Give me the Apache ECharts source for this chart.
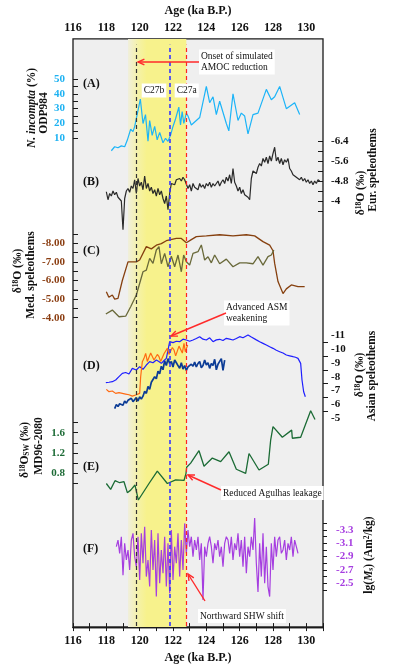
<!DOCTYPE html>
<html><head><meta charset="utf-8">
<script src="https://cdn.jsdelivr.net/npm/echarts@6/dist/echarts.min.js"></script>
<style>html,body{margin:0;padding:0;background:#fff}#c{width:396px;height:669px}</style>
</head><body><div id="c"></div>
<script>
// ---------- data ----------
const ageTickLabels = [116,118,120,122,124,126,128,130];
const eventAges = [119.8, 121.8, 122.8];
const bandAges = [119.3, 122.8];

// (A) N. incompta ODP984 (%)
const ageA = [118.30,118.50,118.70,118.90,119.10,119.26,119.46,119.60,119.70,120.04,120.20,120.35,120.50,120.60,120.75,120.90,121.05,121.20,121.40,121.55,121.70,121.85,122.00,122.15,122.35,122.45,122.55,122.65,122.80,122.90,123.10,123.60,124.00,124.20,124.40,124.60,124.80,125.20,125.35,125.60,125.90,126.10,126.30,126.50,126.80,127.10,127.60,127.90,128.10,128.40,128.80,129.30,129.60];
const valA = [1.6,4.3,3.6,4.9,4.3,8.8,16.1,14.5,17.9,36.4,20,26,8,22,12,18,9,14,7,10,8,12,18,23,31,19,28,20,27,25,19,24,45,34,38,26,35,20,15,40,22,27,25,13,26,27,43,36,38,45,30,34,26];

// (B) Eur. speleothems d18O, 0.1 ka steps from 118.0
const startB = 118.0, stepB = 0.1;
const valB = [-4.37,-4.05,-4.3,-4.2,-4.4,-4.25,-4.35,-4.15,-4.1,-4.0,-2.85,-4.1,-4.4,-4.5,-4.35,-4.6,-4.5,-4.85,-4.3,-4.9,
-4.6,-4.75,-4.45,-5.0,-4.5,-4.7,-4.4,-4.55,-4.3,-4.45,-4.2,-4.5,-4.25,-4.4,-4.1,-3.9,-4.2,-3.65,-4.3,-4.7,
-4.75,-4.65,-4.85,-4.8,-4.9,-4.8,-4.95,-4.85,-4.9,-4.5,-4.65,-4.4,-4.7,-4.55,-4.6,-4.45,-4.7,-4.55,-4.65,-4.5,
-4.7,-4.6,-4.75,-4.55,-4.7,-4.6,-4.65,-4.8,-4.6,-4.75,-4.85,-4.7,-4.95,-4.8,-5.05,-4.7,-5.3,-4.75,-4.6,-4.4,
-4.55,-4.3,-4.45,-4.25,-4.3,-4.15,-4.05,-4.9,-5.2,-5.25,-5.1,-5.35,-5.5,-5.4,-5.7,-5.55,-5.75,-5.5,-5.8,-5.6,
-5.9,-6.15,-5.6,-5.75,-5.5,-5.7,-5.45,-5.65,-5.55,-5.7,-5.3,-5.2,-5.05,-5.1,-4.95,-5.0,-4.85,-4.95,-4.8,-4.9,
-4.75,-4.85,-4.7,-4.8,-4.65,-4.8,-4.7,-4.85,-4.8];
const labelsB = [-6.4,-5.6,-4.8,-4];

// (C) Med. speleothems d18O
const ageC1 = [118.0,118.15,118.36,118.5,118.7,118.96,119.3,119.8,120.0,120.4,120.7,121.0,121.3,121.6,122.2,122.5,122.8,123.1,123.4,124.0,124.8,125.6,126.4,126.9,127.4,127.8,128.0,128.1,128.3,128.6,128.8,129.1,129.5,129.9];
const valC1 = [-5.4,-5.1,-5.22,-5.0,-5.04,-6.0,-7.0,-7.0,-7.1,-7.82,-7.7,-7.9,-7.98,-8.14,-8.26,-8.26,-8.03,-8.2,-8.36,-8.4,-8.46,-8.4,-8.46,-8.4,-8.09,-7.9,-7.6,-6.92,-5.94,-5.3,-5.55,-5.76,-5.67,-5.67];
const ageC2 = [117.97,118.36,118.76,119.16,119.46,119.8,120.2,120.4,120.6,120.8,121.0,121.16,121.3,121.5,121.7,121.9,122.1,122.3,122.5,122.64,122.8,123.0,123.2,123.5,123.7,123.9,124.1,124.3,124.5,124.8,125.2,125.6,126.0,126.4,126.8,127.1,127.4,127.7,127.9,128.05];
const valC2 = [-4.2,-4.41,-4.05,-4.08,-4.59,-5.22,-6.47,-6.56,-7.19,-6.92,-7.64,-7.82,-6.9,-7.46,-6.74,-7.3,-6.74,-7.37,-6.47,-7.37,-7.01,-6.83,-7.46,-7.55,-7.91,-7.1,-7.28,-6.95,-7.37,-6.9,-7.15,-6.74,-6.95,-6.95,-6.9,-7.28,-6.83,-7.28,-7.37,-7.64];
const labelsC = [-8,-7,-6,-5,-4];

// (D) Asian speleothems d18O
const ageD1 = [117.97,118.16,118.36,118.56,118.76,118.96,119.16,119.36,119.56,119.8,120.0,120.2,120.4,120.6,120.8,121.0,121.15,121.3,121.45,121.6,121.7,121.8,121.9,122.0,122.2,122.4,122.6,122.8,123.0,123.2,123.4,123.6,123.8,124.0,124.2,124.4,124.6,124.8,125.0,125.2,125.4,125.6,125.8,126.0,126.2,126.5,126.7,126.8,127.0,127.2,127.4,127.6,127.8,128.0,128.2,128.4,128.6,128.8,129.0,129.2,129.35,129.5,129.66,129.74,129.84,129.94];
const valD1 = [-7.57,-7.6,-7.64,-7.76,-8.0,-8.24,-8.3,-8.19,-8.6,-8.48,-8.72,-8.53,-8.84,-9.08,-9.0,-9.2,-9.1,-8.96,-9.15,-9.32,-9.92,-10.52,-10.4,-10.45,-10.55,-10.52,-10.7,-10.64,-10.55,-10.64,-10.75,-10.88,-10.7,-10.64,-10.8,-10.52,-10.65,-10.69,-10.6,-10.76,-10.7,-10.64,-10.75,-10.88,-10.8,-11.0,-10.85,-10.76,-10.65,-10.52,-10.4,-10.28,-10.15,-10.04,-9.9,-9.8,-9.7,-9.56,-9.5,-9.44,-9.4,-9.32,-8.96,-7.76,-6.92,-6.56];
const ageD2 = [118.0,118.16,118.36,118.56,118.76,118.96,119.16,119.36,119.56,119.76,120.0,120.06,120.16,120.26,120.36,120.46,120.56,120.66,120.76,120.86,120.96,121.06,121.16,121.26,121.36,121.46,121.56,121.66,121.76,121.86,121.96,122.06,122.16,122.26,122.36,122.46,122.56,122.66,122.74,122.8,122.88];
const valD2 = [-7.09,-6.92,-6.97,-6.8,-6.85,-6.8,-6.75,-6.7,-6.6,-6.68,-6.8,-8.0,-9.08,-9.32,-9.68,-9.1,-9.2,-9.7,-9.56,-9.2,-9.32,-9.6,-9.44,-9.1,-9.2,-9.65,-9.56,-10.04,-9.6,-9.68,-10.1,-9.92,-9.5,-9.56,-10.2,-10.16,-9.7,-10.4,-9.8,-9.92,-10.28];
const startD3 = 118.5, stepD3 = 0.1;
const valD3 = [-5.7,-6.0,-5.85,-6.05,-6.15,-5.95,-6.25,-6.1,-6.3,-6.2,-6.45,-6.2,-6.35,-6.5,-6.25,-6.55,-6.4,-6.6,-6.95,-6.8,
-7.3,-7.1,-7.6,-7.5,-8.0,-7.85,-8.4,-8.2,-8.75,-8.5,-9.15,-8.8,-9.3,-8.95,-9.1,-8.7,-9.2,-9.0,-8.8,-8.6,
-9.0,-8.55,-8.8,-8.45,-8.7,-8.6,-8.9,-8.75,-9.05,-8.7,-8.95,-9.1,-8.65,-8.8,-9.2,-8.85,-9.0,-8.6,-8.95,-8.8,
-9.25,-8.5,-8.9,-9.1,-9.3,-8.45,-9.2];

// (E) d18Osw MD96-2080
const ageE = [118.0,118.26,118.52,118.8,119.06,119.26,119.46,119.72,119.92,120.56,121.06,121.66,122.16,122.66,122.78,122.82,123.06,123.56,123.86,124.36,124.86,125.36,125.8,126.36,126.56,127.16,127.72,127.86,128.0,128.56,129.12,129.16,129.66,130.26,130.52];
const valE = [0.6,0.485,0.655,0.615,0.635,0.42,0.47,0.57,0.275,0.6,0.845,0.6,0.67,0.66,0.8,0.92,1.0,1.245,0.94,1.1,1.03,1.225,0.88,0.8,1.19,0.865,0.98,1.455,1.72,1.51,1.65,1.49,1.51,2.03,1.86];
const labelsE = [0.8,1.2,1.6];

// (F) lg(Ms), 0.1 ka steps from 118.6
const startF = 118.6, stepF = 0.1;
const valF = [-3.05,-3.15,-2.95,-3.2,-2.62,-3.1,-2.85,-3.0,-2.7,-3.15,-3.25,-2.9,-2.75,-3.2,-2.55,-3.25,-2.8,-3.35,-2.6,-2.85,
-2.45,-3.3,-2.7,-3.15,-2.3,-3.25,-2.5,-3.0,-2.65,-3.2,-2.45,-3.1,-2.35,-3.3,-2.55,-3.05,-2.8,-3.25,-2.6,-3.15,
-2.7,-3.4,-2.95,-3.3,-3.05,-3.2,-2.9,-3.15,-3.0,-3.2,-2.85,-3.1,-2.25,-3.05,-2.9,-3.1,-3.2,-3.05,-2.8,-3.1,
-3.0,-3.15,-2.9,-3.05,-2.75,-3.1,-3.2,-3.15,-2.95,-3.2,-2.85,-3.1,-3.0,-3.25,-2.9,-3.15,-2.75,-3.2,-2.65,-3.05,
-2.9,-3.2,-3.0,-3.48,-2.8,-2.37,-3.1,-2.6,-3.25,-2.5,-3.05,-2.45,-2.3,-3.1,-2.7,-3.2,-2.9,-3.15,-3.2,-2.95,
-3.0,-3.15,-2.85,-3.1,-3.0,-3.2,-2.9,-3.15,-3.05,-2.95];
const labelsF = [-3.3,-3.1,-2.9,-2.7,-2.5];

// ---------- helpers ----------
const pairs = (xs, ys) => ys.map((v, i) => [xs[i], v]);
const regular = (start, step, ys) => ys.map((v, i) => [+(start + i * step).toFixed(2), v]);
const inList = (list, v) => list.some(t => Math.abs(t - v) < 1e-6);
const FF = 'Liberation Serif, Times New Roman, serif';

const L = 73, W = 250;
const panels = [
  {top: 79, height: 59.3},   // A
  {top: 141, height: 70},    // B
  {top: 234, height: 83.7},  // C
  {top: 335, height: 83.4},  // D
  {top: 422.5, height: 61},  // E
  {top: 523.4, height: 66.5} // F
];

const grids = [{left: L, top: 33, width: W, height: 597, show: true, backgroundColor: '#efefef', borderColor: '#1a1a1a', borderWidth: 1.3}]
  .concat(panels.map(p => ({left: L, width: W, top: p.top, height: p.height})));

const ageAxisBase = {
  type: 'value', min: 116, max: 131, interval: 1, gridIndex: 0,
  axisLine: {show: true, lineStyle: {color: '#1a1a1a', width: 1.3}},
  axisTick: {show: true, inside: true, length: 4, lineStyle: {color: '#1a1a1a', width: 1}},
  splitLine: {show: false},
  axisLabel: {fontFamily: FF, fontWeight: 'bold', fontSize: 12, color: '#111',
    formatter: v => inList(ageTickLabels, v) ? String(v) : ''},
  name: 'Age (ka B.P.)', nameLocation: 'middle',
  nameTextStyle: {fontFamily: FF, fontWeight: 'bold', fontSize: 12, color: '#111'}
};
const xAxes = [
  Object.assign({}, ageAxisBase, {position: 'top', nameGap: 19, axisLabel: Object.assign({}, ageAxisBase.axisLabel, {margin: 5})}),
  Object.assign({}, ageAxisBase, {position: 'bottom', nameGap: 22, axisLabel: Object.assign({}, ageAxisBase.axisLabel, {margin: 8})})
].concat(panels.map((p, i) => ({type: 'value', min: 116, max: 131, gridIndex: i + 1, show: false})));

function yAx(gi, o) {
  return Object.assign({
    type: 'value', gridIndex: gi, splitLine: {show: false},
    axisLine: {show: false},
  }, o, {
    axisTick: Object.assign({show: true, length: 5, lineStyle: {color: '#1a1a1a', width: 1}}, o.axisTick || {}),
    axisLabel: Object.assign({fontFamily: FF, fontWeight: 'bold', fontSize: 11, margin: 8}, o.axisLabel || {})
  });
}
const yAxes = [
  {type: 'value', gridIndex: 0, min: 0, max: 1, show: false},
  yAx(1, {position: 'left', min: 10, max: 50, interval: 5, axisTick: {inside: true},
    axisLabel: {color: '#1eb2f2', formatter: v => v % 10 === 0 ? String(v) : ''}}),
  yAx(2, {position: 'right', min: -6.4, max: -3.6, interval: 0.4, inverse: true, axisTick: {inside: true},
    axisLabel: {color: '#111', formatter: v => inList(labelsB, v) ? String(+v.toFixed(1)) : ''}}),
  yAx(3, {position: 'left', min: -8.5, max: -4, interval: 0.5, inverse: true, axisTick: {inside: true},
    axisLabel: {color: '#8b3e12', formatter: v => inList(labelsC, v) ? v.toFixed(2) : ''}}),
  yAx(4, {position: 'right', min: -11, max: -5, interval: 1, inverse: true,
    axisTick: {show: false, inside: false},
    minorTick: {show: true, splitNumber: 2, length: 5, lineStyle: {color: '#1a1a1a', width: 1}},
    axisLabel: {color: '#111', formatter: v => String(v)}}),
  yAx(5, {position: 'left', min: 0.6, max: 1.8, interval: 0.2, axisTick: {inside: true},
    axisLabel: {color: '#1d6b36', formatter: v => inList(labelsE, v) ? v.toFixed(1) : ''}}),
  yAx(6, {position: 'right', min: -3.4, max: -2.4, interval: 0.1, inverse: true, axisTick: {inside: false, length: 4},
    axisLabel: {color: '#a63ee0', margin: 13, formatter: v => inList(labelsF, v) ? v.toFixed(1) : ''}})
];

function line(xi, yi, data, color, width) {
  return {type: 'line', xAxisIndex: xi, yAxisIndex: yi, data, symbol: 'none', clip: false, silent: true,
    lineStyle: {color, width: width || 1.2}, z: 3};
}

const evColors = ['#333333', '#3535ff', '#ff2222'];
const series = [
  {type: 'line', xAxisIndex: 0, yAxisIndex: 0, data: [], silent: true, z: 1,
    markArea: {silent: true, itemStyle: {color: {type: 'linear', x: 0, y: 0, x2: 1, y2: 0,
      colorStops: [{offset: 0, color: '#f0efdc'}, {offset: 0.18, color: '#f5f2a6'}, {offset: 0.32, color: '#f7f28c'}, {offset: 1, color: '#f7f28c'}]}},
      data: [[{xAxis: bandAges[0], yAxis: 0}, {xAxis: bandAges[1], yAxis: 1}]]},
    markLine: {silent: true, symbol: 'none', label: {show: false},
      data: eventAges.map((a, i) => [
        {coord: [a, 0.002], lineStyle: {color: evColors[i], width: i === 1 ? 1.6 : 1.2, type: [4, 3]}},
        {coord: [a, 0.99]}])}
  },
  line(2, 1, pairs(ageA, valA), '#1cb4f8', 1.2),
  line(3, 2, regular(startB, stepB, valB), '#2a2a2a', 1.2),
  line(4, 3, pairs(ageC1, valC1), '#86400f', 1.3),
  line(4, 3, pairs(ageC2, valC2), '#69693a', 1.3),
  line(5, 4, regular(startD3, stepD3, valD3), '#0c3c96', 1.7),
  line(5, 4, pairs(ageD1, valD1), '#1f1fff', 1.2),
  line(5, 4, pairs(ageD2, valD2), '#ff6a12', 1.2),
  line(6, 5, pairs(ageE, valE), '#1b6b35', 1.3),
  line(7, 6, regular(startF, stepF, valF), '#a63ee0', 1.2)
];

// ---------- text graphics ----------
const tb = {fontFamily: FF, fontWeight: 'bold', fontSize: 11.5, fill: '#111'};
const rich = {
  sup: {fontFamily: FF, fontWeight: 'bold', fontSize: 7.5, fill: '#111', verticalAlign: 'top'},
  sub: {fontFamily: FF, fontWeight: 'bold', fontSize: 7.5, fill: '#111', verticalAlign: 'bottom'},
  i: {fontFamily: FF, fontWeight: 'bold', fontStyle: 'italic', fontSize: 11.5, fill: '#111'},
  n: {fontFamily: FF, fontWeight: 'bold', fontSize: 11.5, fill: '#111'}
};
function vtext(x, y, text) {
  return {type: 'text', x, y, rotation: Math.PI / 2, z: 100,
    style: Object.assign({}, tb, {text, rich, align: 'center', verticalAlign: 'middle'})};
}
function label(x, y, text) {
  return {type: 'text', x, y, z: 100, style: Object.assign({}, tb, {fontSize: 12, text, align: 'left', verticalAlign: 'middle'})};
}
const ann = {fontFamily: FF, fontSize: 9.5, fill: '#111', backgroundColor: '#ffffff', padding: [2, 2, 1, 2], lineHeight: 11};
function box(x, y, text, align, va) {
  return {type: 'text', x, y, z: 100, style: Object.assign({}, ann, {text, align: align || 'left', verticalAlign: va || 'middle'})};
}
function arrow(x1, y1, x2, y2) {
  const a = Math.atan2(y2 - y1, x2 - x1), Lh = 7, w = 0.42;
  const st = {stroke: '#ff2a2a', lineWidth: 1.4, fill: null};
  return [
    {type: 'line', z: 101, shape: {x1, y1, x2, y2}, style: st},
    {type: 'polyline', z: 101, shape: {points: [
      [x2 - Lh * Math.cos(a - w), y2 - Lh * Math.sin(a - w)], [x2, y2],
      [x2 - Lh * Math.cos(a + w), y2 - Lh * Math.sin(a + w)]]}, style: st}
  ];
}

const graphic = [
  label(83, 84, '(A)'), label(83, 182, '(B)'), label(83, 251, '(C)'),
  label(83, 366, '(D)'), label(83, 467, '(E)'), label(83, 549, '(F)'),
  vtext(32, 108, '{i|N. incompta} {n|(%)}'),
  vtext(44, 113, 'ODP984'),
  vtext(18, 271, 'δ{sup|18}O (‰)'),
  vtext(31, 275, 'Med. speleothems'),
  vtext(25, 450, 'δ{sup|18}O{sub|SW} (‰)'),
  vtext(39, 446, 'MD96-2080'),
  vtext(361, 193, 'δ{sup|18}O (‰)'),
  vtext(373, 170, 'Eur. speleothems'),
  vtext(360, 375, 'δ{sup|18}O (‰)'),
  vtext(372, 376, 'Asian speleothems'),
  vtext(369, 555, 'lg({i|M}{sub|s}) (Am{sup|2}/kg)'),
  box(199, 62, 'Onset of simulated\nAMOC reduction'),
  box(154, 90.5, 'C27b', 'center'),
  box(186.7, 90.5, 'C27a', 'center'),
  box(224, 313, 'Advanced ASM\nweakening'),
  box(221, 493, 'Reduced Agulhas leakage'),
  box(198, 616, 'Northward SHW shift')
].concat(arrow(199, 62, 138, 62), arrow(226, 313, 171, 336), arrow(221, 490, 188, 475), arrow(205, 601, 188, 574));

const chart = echarts.init(document.getElementById('c'), null, {renderer: 'canvas'});
chart.setOption({animation: false, grid: grids, xAxis: xAxes, yAxis: yAxes, series, graphic});
</script></body></html>
